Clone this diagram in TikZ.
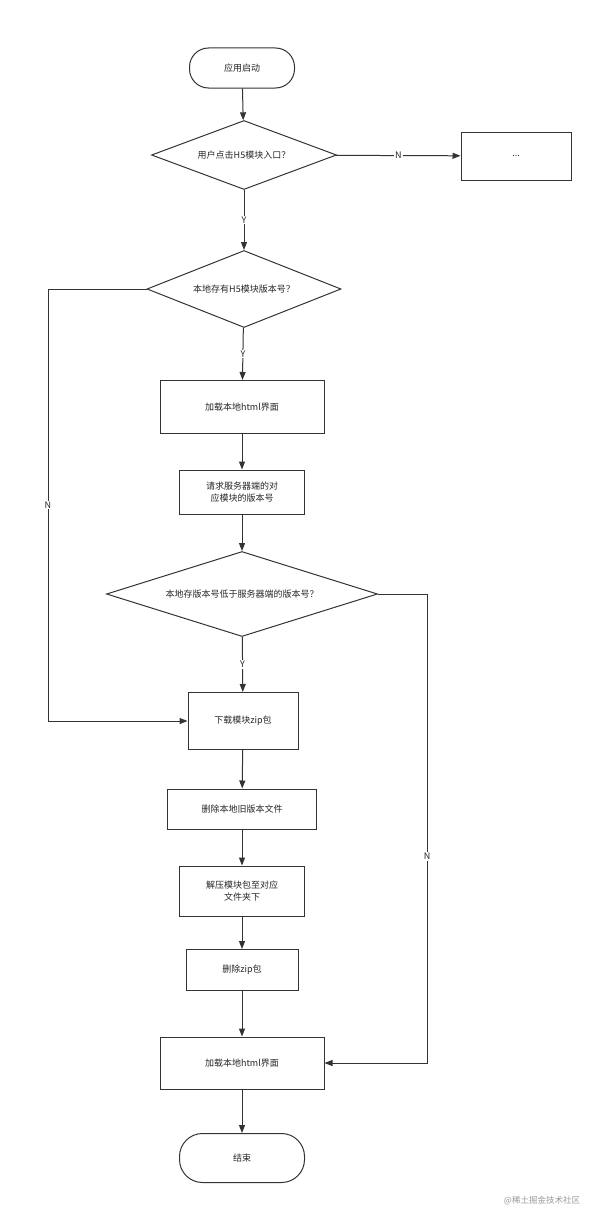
\documentclass[tikz,border=0pt]{standalone}
\usepackage{fontspec}
\newfontfamily\cjk{Noto Sans CJK SC}
\usetikzlibrary{shapes.geometric,arrows.meta}
\begin{document}
\begin{tikzpicture}[x=1pt,y=-1pt,
  every node/.style={font=\cjk\fontsize{9}{12}\selectfont,text=black!85},
  proc/.style={draw=black!80,line width=1pt,minimum width=#1,align=center},
  term/.style={draw=black!80,line width=1pt,rounded corners=19pt,minimum height=40pt,minimum width=#1},
  dec/.style={draw=black!80,line width=1pt,diamond,aspect=2.7,inner sep=0pt,minimum width=#1},
  arr/.style={draw=black!80,line width=1pt,-{Triangle[length=8pt,width=6pt]}},
  lbl/.style={fill=white,inner sep=1pt}]
\useasboundingbox (0,0) rectangle (603,1215);
\node[term=105pt] (s) at (242,68) {应用启动};
\node[dec=185pt,minimum height=69pt,aspect=2.68] (d1) at (244,155) {用户点击H5模块入口？};
\node[proc=110pt,minimum height=48pt] (dots) at (516,156) {...};
\node[dec=194pt,minimum height=77pt,aspect=2.52] (d2) at (244,289) {本地存有H5模块版本号？};
\node[proc=164pt,minimum height=53pt] (b1) at (242,407) {加载本地html界面};
\node[proc=125pt,minimum height=44pt] (b2) at (242,492) {请求服务器端的对\\应模块的版本号};
\node[dec=271pt,minimum height=85pt,aspect=3.19] (d3) at (242,594) {本地存版本号低于服务器端的版本号？};
\node[proc=110pt,minimum height=57pt] (b3) at (243,721) {下载模块zip包};
\node[proc=149pt,minimum height=40pt] (b4) at (242,809) {删除本地旧版本文件};
\node[proc=125pt,minimum height=50pt] (b5) at (242,891) {解压模块包至对应\\文件夹下};
\node[proc=112pt,minimum height=41pt] (b6) at (242,970) {删除zip包};
\node[proc=164pt,minimum height=52pt] (b7) at (242,1063) {加载本地html界面};
\node[term=125pt,minimum height=49pt,rounded corners=23pt] (e) at (242,1158) {结束};
\draw[arr] (s) -- (d1);
\draw[arr] (d1) -- node[lbl]{N} (dots);
\draw[arr] (d1) -- node[lbl]{Y} (d2);
\draw[arr] (d2) -- node[lbl]{Y} (b1);
\draw[arr] (b1) -- (b2);
\draw[arr] (b2) -- (d3);
\draw[arr] (d3) -- node[lbl]{Y} (b3);
\draw[arr] (b3) -- (b4);
\draw[arr] (b4) -- (b5);
\draw[arr] (b5) -- (b6);
\draw[arr] (b6) -- (b7);
\draw[arr] (b7) -- (e);
\coordinate (l1) at (48,289); \coordinate (l2) at (48,721);
\draw[arr] (d2.west) -- (l1) -- node[lbl]{N} (l2) -- (b3.west);
\coordinate (r1) at (427,594); \coordinate (r2) at (427,1063);
\draw[arr] (d3.east) -- (r1) -- node[lbl,pos=0.56]{N} (r2) -- (b7.east);
\node[text=black!40,font=\cjk\fontsize{8.5}{10}\selectfont] (wm) at (542,1201) {@稀土掘金技术社区};
\end{tikzpicture}
\end{document}
